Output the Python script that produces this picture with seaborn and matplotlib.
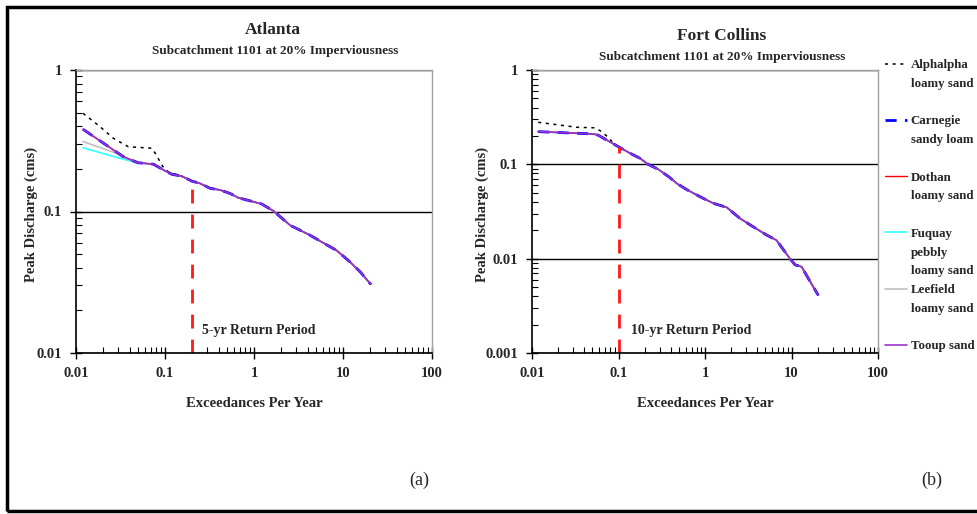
import matplotlib.pyplot as plt
import seaborn as sns
from matplotlib.lines import Line2D
from matplotlib.patches import Rectangle
from matplotlib.ticker import LogLocator, NullFormatter, FuncFormatter

# Données (échelle log-log)
soils = ['Alphalpha\nloamy sand', 'Carnegie\nsandy loam', 'Dothan\nloamy sand',
         'Fuquay\npebbly\nloamy sand', 'Leefield\nloamy sand', 'Tooup sand']

# Atlanta : courbe commune (Carnegie, Dothan, Tooup)
atl_x = [0.012, 0.034, 0.050, 0.074, 0.10, 0.12, 0.154, 0.20, 0.247, 0.32, 0.414,
         0.54, 0.667, 0.90, 1.22, 1.65, 2.54, 4.26, 6.0, 8.5, 12.0, 15.5, 20.5]
atl_y = [0.381, 0.244, 0.221, 0.216, 0.194, 0.183, 0.178, 0.164, 0.158, 0.146, 0.142,
         0.134, 0.125, 0.119, 0.113, 0.101, 0.080, 0.068, 0.060, 0.053, 0.044, 0.0376, 0.0306]
# début des courbes qui s'écartent
atl_alph_x = [0.012, 0.0186, 0.0263, 0.0387, 0.071, 0.077, 0.095, 0.114, 0.135, 0.17]
atl_alph_y = [0.494, 0.398, 0.329, 0.287, 0.280, 0.260, 0.207, 0.186, 0.183, 0.172]
atl_fuq_x = [0.012, 0.034]
atl_fuq_y = [0.282, 0.234]
atl_lee_x = [0.012, 0.030, 0.045]
atl_lee_y = [0.312, 0.255, 0.222]

# Fort Collins
fc_x = [0.0118, 0.051, 0.058, 0.073, 0.0995, 0.136, 0.177, 0.22, 0.288, 0.38, 0.471,
        0.614, 0.875, 1.25, 1.78, 2.54, 3.6, 5.16, 6.7, 9.6, 11.0, 13.1, 15.6, 17.9, 20.4]
fc_y = [0.222, 0.210, 0.204, 0.181, 0.154, 0.131, 0.116, 0.100, 0.0885, 0.074, 0.0628,
        0.054, 0.0454, 0.0386, 0.035, 0.0267, 0.0218, 0.0178, 0.0157, 0.0100, 0.0086,
        0.0082, 0.0062, 0.0050, 0.0041]
fc_alph_x = [0.0118, 0.033, 0.0535, 0.064, 0.076, 0.09]
fc_alph_y = [0.279, 0.247, 0.244, 0.222, 0.193, 0.162]

# Périodes de retour
atl_rp = 0.2
atl_rp_top = 0.164
fc_rp = 0.1
fc_rp_top = 0.154

styles = {
    'Alphalpha\nloamy sand': dict(color='black', lw=1.1, ls=(0, (2, 3))),
    'Leefield\nloamy sand': dict(color='#c0c0c0', lw=1.2, ls='-'),
    'Fuquay\npebbly\nloamy sand': dict(color='#33ffff', lw=1.2, ls='-'),
    'Dothan\nloamy sand': dict(color='red', lw=1.0, ls='-'),
    'Carnegie\nsandy loam': dict(color='blue', lw=2.0, ls=(0, (4, 3))),
    'Tooup sand': dict(color='#9933cc', lw=1.2, ls='-'),
}
draw_order = ['Alphalpha\nloamy sand', 'Leefield\nloamy sand', 'Fuquay\npebbly\nloamy sand',
              'Dothan\nloamy sand', 'Carnegie\nsandy loam', 'Tooup sand']


def join(head_x, head_y, main_x, main_y):
    """Début propre à la courbe, puis la courbe commune"""
    xs = list(head_x) + [x for x in main_x if x > head_x[-1]]
    ys = list(head_y) + [y for x, y in zip(main_x, main_y) if x > head_x[-1]]
    return xs, ys


def draw_panel(ax, series, ylim, rp, rp_top, rp_label, label_pos, ylabel_x):
    ax.set_xscale('log')
    ax.set_yscale('log')
    for soil in draw_order:
        xs, ys = series[soil]
        st = styles[soil]
        sns.lineplot(x=xs, y=ys, ax=ax, color=st['color'], lw=st['lw'],
                     linestyle=st['ls'], estimator=None, sort=False, legend=False)
    # ligne de la période de retour
    ax.plot([rp, rp], [ylim[0], rp_top], color='#ff1a1a', lw=2, ls=(0, (5, 4)))
    ax.text(label_pos[0], label_pos[1], rp_label, fontsize=10, fontweight='bold',
            va='center', ha='left')

    ax.set_xlim(0.01, 100)
    ax.set_ylim(*ylim)
    ax.xaxis.set_major_locator(LogLocator(base=10))
    ax.yaxis.set_major_locator(LogLocator(base=10))
    ax.xaxis.set_minor_locator(LogLocator(base=10, subs=range(2, 10)))
    ax.yaxis.set_minor_locator(LogLocator(base=10, subs=range(2, 10)))
    fmt = FuncFormatter(lambda v, p: f'{v:g}')
    ax.xaxis.set_major_formatter(fmt)
    ax.yaxis.set_major_formatter(fmt)
    ax.xaxis.set_minor_formatter(NullFormatter())
    ax.yaxis.set_minor_formatter(NullFormatter())
    ax.tick_params(which='major', direction='inout', length=8, width=1, color='black',
                   bottom=True, left=True, labelsize=10.5, pad=6)
    ax.tick_params(which='minor', direction='in', length=4, width=0.8, color='black',
                   bottom=True, left=True)
    for lab in ax.get_xticklabels() + ax.get_yticklabels():
        lab.set_fontweight('bold')

    ax.yaxis.grid(True, which='major', color='black', lw=1)
    ax.xaxis.grid(False)
    ax.set_axisbelow(True)
    for side in ['top', 'right']:
        ax.spines[side].set_color('#a0a0a0')
        ax.spines[side].set_linewidth(1)
    for side in ['left', 'bottom']:
        ax.spines[side].set_color('black')
        ax.spines[side].set_linewidth(1.2)

    ax.set_xlabel('Exceedances Per Year', fontsize=10.5, fontweight='bold', labelpad=12)
    ax.set_ylabel('Peak Discharge (cms)', fontsize=10.5, fontweight='bold')
    ax.yaxis.set_label_coords(ylabel_x, 0.49)


sns.set_style('white')
plt.rcParams['font.family'] = ['Liberation Serif', 'DejaVu Serif']

fig = plt.figure(figsize=(9.77, 5.14), dpi=100)
W, H = 977, 514
ax1 = fig.add_axes([76 / W, 1 - 353 / H, 356 / W, 283 / H])
ax2 = fig.add_axes([532 / W, 1 - 353 / H, 346 / W, 283 / H])

atl_series = {
    'Alphalpha\nloamy sand': join(atl_alph_x, atl_alph_y, atl_x, atl_y),
    'Carnegie\nsandy loam': (atl_x, atl_y),
    'Dothan\nloamy sand': (atl_x, atl_y),
    'Fuquay\npebbly\nloamy sand': join(atl_fuq_x, atl_fuq_y, atl_x, atl_y),
    'Leefield\nloamy sand': join(atl_lee_x, atl_lee_y, atl_x, atl_y),
    'Tooup sand': (atl_x, atl_y),
}
fc_series = {s: (fc_x, fc_y) for s in soils}
fc_series['Alphalpha\nloamy sand'] = join(fc_alph_x, fc_alph_y, fc_x, fc_y)

draw_panel(ax1, atl_series, (0.01, 1), atl_rp, atl_rp_top, '5-yr Return Period',
           (0.26, 0.0145), -0.107)
draw_panel(ax2, fc_series, (0.001, 1), fc_rp, fc_rp_top, '10-yr Return Period',
           (0.14, 0.00175), -0.124)

# Titres
fig.text(273 / W, 1 - 30 / H, 'Atlanta', ha='center', va='center', fontsize=12.5, fontweight='bold')
fig.text(275 / W, 1 - 51 / H, 'Subcatchment 1101 at 20% Imperviousness', ha='center',
         va='center', fontsize=9.5, fontweight='bold')
fig.text(722 / W, 1 - 36 / H, 'Fort Collins', ha='center', va='center', fontsize=12.5, fontweight='bold')
fig.text(722 / W, 1 - 57 / H, 'Subcatchment 1101 at 20% Imperviousness', ha='center',
         va='center', fontsize=9.5, fontweight='bold')
fig.text(419 / W, 1 - 480 / H, '(a)', ha='center', va='center', fontsize=13)
fig.text(932 / W, 1 - 480 / H, '(b)', ha='center', va='center', fontsize=13)

# Légende : une ligne de texte par rangée
handles, labels = [], []
blank = Line2D([], [], color='none')
for soil in soils:
    st = styles[soil]
    parts = soil.split('\n')
    handles.append(Line2D([], [], color=st['color'], lw=st['lw'], ls=st['ls']))
    labels.append(parts[0])
    for p in parts[1:]:
        handles.append(blank)
        labels.append(p)
    if len(parts) < 3:
        handles.append(blank)
        labels.append(' ')
fig.legend(handles[:-1], labels[:-1], loc='upper left', bbox_to_anchor=(885 / W, 1 - 59 / H),
           frameon=False, prop={'size': 9.3, 'weight': 'bold'}, handlelength=1.7,
           handletextpad=0.3, labelspacing=0.52, borderpad=0, borderaxespad=0)

# Cadre extérieur
fig.add_artist(Rectangle((7 / W, 3 / H), 1.0, 1 - 10 / H, transform=fig.transFigure,
                         fill=False, edgecolor='black', lw=2.5, clip_on=False))

fig.savefig('out.png', dpi=100)
